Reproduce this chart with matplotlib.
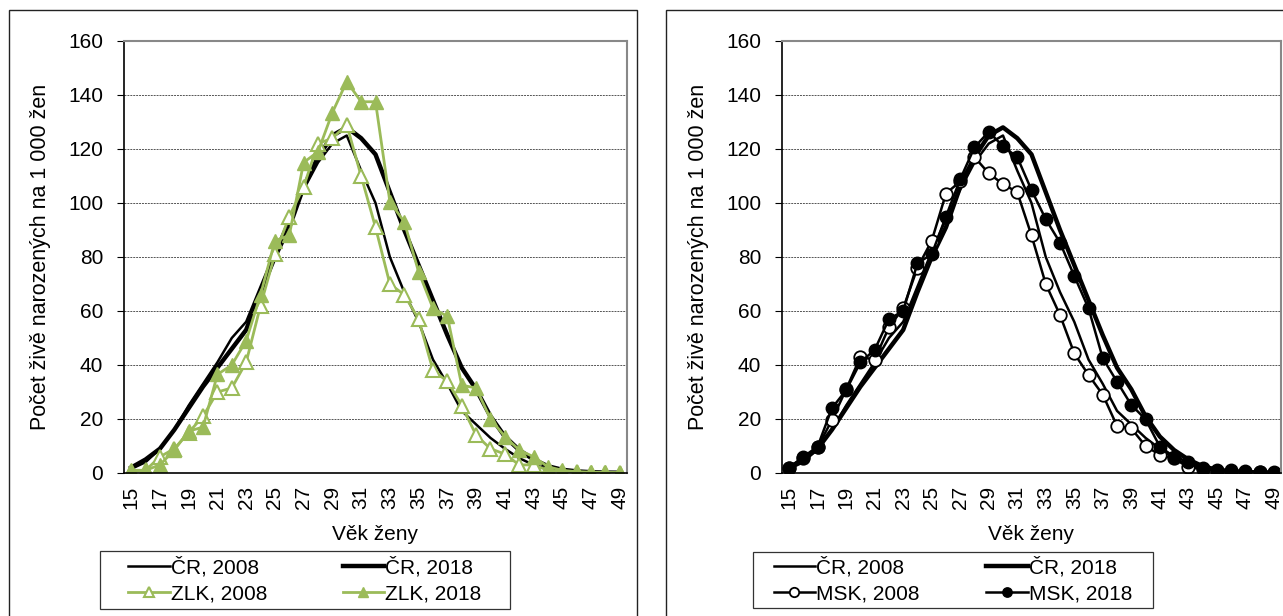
import matplotlib.pyplot as plt
from matplotlib.patches import Rectangle

plt.rcParams['font.family'] = ['Liberation Sans', 'DejaVu Sans']

ages = list(range(15, 50))
age_ticks = list(range(15, 50, 2))

# Czech Republic
cr_2008 = [1.5, 4, 9, 16, 25, 33, 41, 50, 56, 69, 82, 94, 105, 115, 122,
           125, 112, 100, 80, 67, 56, 42, 33, 23, 18, 13, 9, 5.5, 3, 1.5,
           0.7, 0.3, 0.2, 0.1, 0.05]
cr_2018 = [2, 5, 9, 16, 24, 32, 39, 46, 53, 67, 80, 91, 106, 117, 125,
           128, 124, 118, 104, 90, 77, 64, 51, 39, 31, 21, 13.5, 8.5, 5, 2.5,
           1.2, 0.6, 0.3, 0.15, 0.1]

# Zlin region
zlk_2008 = [0.5, 1, 6, 9, 15, 21, 30, 31.5, 41, 62, 81, 95, 106, 122, 124,
            129, 110, 91, 70, 66, 57, 38, 34, 25, 14, 9, 7, 3, 3, 1,
            0.5, 0.3, 0.1, 0.1, 0.1]
zlk_2018 = [1, 1, 3, 8.5, 15.5, 17, 36.5, 40, 49, 66, 86, 88, 115, 119, 133.5,
            145, 137.5, 137.5, 100.5, 93, 74.5, 61, 58, 32.5, 31.5, 20, 13.5, 8.5, 6, 2.3,
            1, 0.5, 0.3, 0.2, 0.1]

# Moravian-Silesian region
msk_2008 = [2, 5.4, 9.5, 19.6, 31, 43, 42, 54, 61, 76, 86, 103.5, 108, 117, 111,
            107, 104, 88, 70, 58.5, 44.3, 36.3, 29, 17.4, 16.5, 10, 6.7, 5.4, 2.1, 1.5,
            0.8, 0.5, 0.3, 0.2, 0.1]
msk_2018 = [2, 6, 9.8, 24, 30.7, 41, 45.6, 57, 60, 77.7, 81, 95, 108.8, 120.6, 126.4,
            121, 117, 104.8, 94, 85.3, 73, 61, 42.5, 33.8, 25.2, 19.9, 9.8, 6, 4.2, 1.7,
            1.2, 1, 0.7, 0.5, 0.4]

green = '#9BBB59'
W, H = 1283, 616
fig = plt.figure(figsize=(W / 100, H / 100), dpi=100)


def fig_rect(x0, y0, x1, y1, color, lw):
    # rectangle given in pixel coords measured from the top-left corner
    fig.patches.append(Rectangle((x0 / W, (H - y1) / H), (x1 - x0) / W, (y1 - y0) / H,
                                 transform=fig.transFigure, fill=False,
                                 edgecolor=color, lw=lw))


# chart area frames
fig_rect(9, 10, 637, 700, '#222222', 1)
fig_rect(666, 10, 1400, 700, '#222222', 1)
# legend frames
fig_rect(100, 551, 510, 609, '#333333', 0.9)
fig_rect(753, 552, 1153, 608, '#333333', 0.9)

ax1 = fig.add_axes([124 / W, (H - 473) / H, 503 / W, 432 / H])
ax2 = fig.add_axes([782 / W, (H - 473) / H, 499 / W, 432 / H])


def style(ax):
    ax.set_xlim(14.5, 49.5)
    ax.set_ylim(0, 160)
    ax.set_yticks(range(0, 161, 20))
    ax.set_xticks(age_ticks)
    ax.set_xticklabels([str(a) for a in age_ticks], rotation=90)
    ax.tick_params(axis='x', length=0, labelsize=15, pad=9)
    ax.tick_params(axis='y', length=5, labelsize=15, direction='out', pad=10)
    ax.yaxis.grid(True, linestyle=(0, (2, 1)), color='#555555', lw=0.7)
    ax.set_axisbelow(True)
    for s in ['left', 'bottom']:
        ax.spines[s].set_color('black')
        ax.spines[s].set_linewidth(1.2)
    for s in ['top', 'right']:
        ax.spines[s].set_color('#888888')
        ax.spines[s].set_linewidth(1.5)
    ax.set_xlabel('Věk ženy', fontsize=15, labelpad=12)
    ax.set_ylabel('Počet živě narozených na 1 000 žen', fontsize=15.5, labelpad=12)


style(ax1)
style(ax2)

# left panel
l1, = ax1.plot(ages, cr_2008, color='black', lw=1.8, label='ČR, 2008')
l2, = ax1.plot(ages, cr_2018, color='black', lw=3.2, label='ČR, 2018')
l3, = ax1.plot(ages, zlk_2008, color=green, lw=2, marker='^', ms=9.5,
               mfc='white', mec=green, mew=1.5, label='ZLK, 2008')
l4, = ax1.plot(ages, zlk_2018, color=green, lw=2, marker='^', ms=9.5,
               mfc=green, mec=green, label='ZLK, 2018')

# right panel
r1, = ax2.plot(ages, cr_2008, color='black', lw=1.8, label='ČR, 2008')
r2, = ax2.plot(ages, cr_2018, color='black', lw=3.2, label='ČR, 2018')
r3, = ax2.plot(ages, msk_2008, color='black', lw=1.8, marker='o', ms=9,
               mfc='white', mec='black', mew=1.3, label='MSK, 2008')
r4, = ax2.plot(ages, msk_2018, color='black', lw=1.8, marker='o', ms=9,
               mfc='black', mec='black', label='MSK, 2018')

# legends, row-major order like the original
for ax, hs, x0, x1, cs in [(ax1, [l1, l3, l2, l4], 100, 510, 3.6),
                           (ax2, [r1, r3, r2, r4], 753, 1153, 3.2)]:
    ax.legend(handles=hs, loc='center', ncol=2,
              bbox_to_anchor=((x0 + x1) / 2 / W, (H - 580) / H),
              bbox_transform=fig.transFigure, frameon=False,
              fontsize=15, handlelength=2.0, handletextpad=0.05,
              labelspacing=0.35, columnspacing=cs, borderpad=0.2,
              markerscale=0.75)

fig.savefig('out.png', dpi=100)
